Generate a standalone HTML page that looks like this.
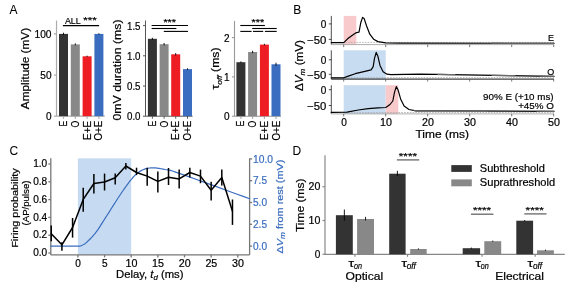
<!DOCTYPE html>
<html><head><meta charset="utf-8"><style>
html,body{margin:0;padding:0;background:#fff;width:568px;height:284px;overflow:hidden}
svg{display:block;will-change:transform}
text{font-family:"Liberation Sans", sans-serif;stroke-width:0.2px;paint-order:stroke}
</style></head><body>
<svg width="568" height="284" viewBox="0 0 568 284">
<rect width="568" height="284" fill="#fff"/>
<text stroke="#000" x="9.6" y="13.6" font-size="12" text-anchor="start" fill="#000" style="stroke-width:0.05px">A</text>
<text stroke="#000" x="293.2" y="13.6" font-size="12" text-anchor="start" fill="#000" style="stroke-width:0.05px">B</text>
<text stroke="#000" x="9.4" y="155.2" font-size="12" text-anchor="start" fill="#000" style="stroke-width:0.05px">C</text>
<text stroke="#000" x="292.6" y="155.0" font-size="12" text-anchor="start" fill="#000" style="stroke-width:0.05px">D</text>
<line x1="56.5" y1="20.6" x2="56.5" y2="116.2" stroke="#aaa" stroke-width="1.2" />
<line x1="56.5" y1="116.2" x2="104.8" y2="116.2" stroke="#aaa" stroke-width="1.2" />
<line x1="54.0" y1="116.2" x2="56.5" y2="116.2" stroke="#aaa" stroke-width="1.2" />
<text stroke="#000" x="51.5" y="120.2" font-size="10" text-anchor="end" fill="#000" >0</text>
<line x1="54.0" y1="75.05" x2="56.5" y2="75.05" stroke="#aaa" stroke-width="1.2" />
<text stroke="#000" x="51.5" y="79.05" font-size="10" text-anchor="end" fill="#000" textLength="11.2" lengthAdjust="spacingAndGlyphs" >50</text>
<line x1="54.0" y1="33.89999999999999" x2="56.5" y2="33.89999999999999" stroke="#aaa" stroke-width="1.2" />
<text stroke="#000" x="51.5" y="37.89999999999999" font-size="10" text-anchor="end" fill="#000" textLength="17" lengthAdjust="spacingAndGlyphs" >100</text>
<rect x="59.0" y="33.9" width="9" height="82.30000000000001" fill="#333333"/>
<line x1="63.5" y1="32.699999999999996" x2="63.5" y2="35.1" stroke="#000" stroke-width="0.9" />
<line x1="63.5" y1="116.2" x2="63.5" y2="118.7" stroke="#aaa" stroke-width="1.2" />
<rect x="70.8" y="44.4" width="9" height="71.80000000000001" fill="#888888"/>
<line x1="75.3" y1="43.4" x2="75.3" y2="45.4" stroke="#000" stroke-width="0.9" />
<line x1="75.3" y1="116.2" x2="75.3" y2="118.7" stroke="#aaa" stroke-width="1.2" />
<rect x="82.6" y="56.3" width="9" height="59.900000000000006" fill="#ee1d24"/>
<line x1="87.1" y1="55.699999999999996" x2="87.1" y2="56.9" stroke="#000" stroke-width="0.9" />
<line x1="87.1" y1="116.2" x2="87.1" y2="118.7" stroke="#aaa" stroke-width="1.2" />
<rect x="94.4" y="33.9" width="9" height="82.30000000000001" fill="#3a6dbf"/>
<line x1="98.9" y1="33.3" x2="98.9" y2="34.5" stroke="#000" stroke-width="0.9" />
<line x1="98.9" y1="116.2" x2="98.9" y2="118.7" stroke="#aaa" stroke-width="1.2" />
<text stroke="#000" x="29.4" y="68.5" font-size="10.2" text-anchor="middle" transform="rotate(-90 29.4 68.5)" textLength="81.3" lengthAdjust="spacingAndGlyphs">Amplitude (mV)</text>
<text stroke="#000" x="67.1" y="120.8" font-size="10" text-anchor="end" transform="rotate(-90 67.1 120.8)" textLength="5.8" lengthAdjust="spacingAndGlyphs">E</text>
<text stroke="#000" x="78.89999999999999" y="120.8" font-size="10" text-anchor="end" transform="rotate(-90 78.89999999999999 120.8)" textLength="6.8" lengthAdjust="spacingAndGlyphs">O</text>
<text stroke="#000" x="90.69999999999999" y="120.8" font-size="10" text-anchor="end" transform="rotate(-90 90.69999999999999 120.8)" textLength="19.2" lengthAdjust="spacingAndGlyphs">E+E</text>
<text stroke="#000" x="102.5" y="120.8" font-size="10" text-anchor="end" transform="rotate(-90 102.5 120.8)" textLength="19.8" lengthAdjust="spacingAndGlyphs">O+E</text>
<line x1="62.9" y1="25.6" x2="99.1" y2="25.6" stroke="#000" stroke-width="1.1" />
<text stroke="#000" x="64.9" y="24.0" font-size="9.8" text-anchor="start" fill="#000" textLength="15.8" lengthAdjust="spacingAndGlyphs" >ALL</text>
<text stroke="#000" x="83.3" y="23.3" font-size="9.4" text-anchor="start" fill="#000" textLength="13.5" lengthAdjust="spacingAndGlyphs" >***</text>
<line x1="145.5" y1="20.5" x2="145.5" y2="116.2" stroke="#555" stroke-width="1.0" />
<line x1="145.5" y1="116.2" x2="192.6" y2="116.2" stroke="#555" stroke-width="1.0" />
<line x1="143.0" y1="116.2" x2="145.5" y2="116.2" stroke="#555" stroke-width="1.0" />
<text stroke="#000" x="140.5" y="120.2" font-size="10" text-anchor="end" fill="#000" textLength="13.5" lengthAdjust="spacingAndGlyphs" >0.0</text>
<line x1="143.0" y1="86.0" x2="145.5" y2="86.0" stroke="#555" stroke-width="1.0" />
<text stroke="#000" x="140.5" y="90.0" font-size="10" text-anchor="end" fill="#000" textLength="13.5" lengthAdjust="spacingAndGlyphs" >0.5</text>
<line x1="143.0" y1="55.8" x2="145.5" y2="55.8" stroke="#555" stroke-width="1.0" />
<text stroke="#000" x="140.5" y="59.8" font-size="10" text-anchor="end" fill="#000" textLength="13.5" lengthAdjust="spacingAndGlyphs" >1.0</text>
<line x1="143.0" y1="25.599999999999994" x2="145.5" y2="25.599999999999994" stroke="#555" stroke-width="1.0" />
<text stroke="#000" x="140.5" y="29.599999999999994" font-size="10" text-anchor="end" fill="#000" textLength="13.5" lengthAdjust="spacingAndGlyphs" >1.5</text>
<rect x="147.9" y="38.8" width="9" height="77.4" fill="#333333"/>
<line x1="152.4" y1="37.8" x2="152.4" y2="39.8" stroke="#000" stroke-width="0.9" />
<line x1="152.4" y1="116.2" x2="152.4" y2="118.7" stroke="#555" stroke-width="1.0" />
<rect x="159.6" y="44.2" width="9" height="72.0" fill="#888888"/>
<line x1="164.1" y1="43.0" x2="164.1" y2="45.400000000000006" stroke="#000" stroke-width="0.9" />
<line x1="164.1" y1="116.2" x2="164.1" y2="118.7" stroke="#555" stroke-width="1.0" />
<rect x="171.2" y="54.3" width="9" height="61.900000000000006" fill="#ee1d24"/>
<line x1="175.7" y1="53.099999999999994" x2="175.7" y2="55.5" stroke="#000" stroke-width="0.9" />
<line x1="175.7" y1="116.2" x2="175.7" y2="118.7" stroke="#555" stroke-width="1.0" />
<rect x="183.0" y="69.1" width="9" height="47.10000000000001" fill="#3a6dbf"/>
<line x1="187.5" y1="68.3" x2="187.5" y2="69.89999999999999" stroke="#000" stroke-width="0.9" />
<line x1="187.5" y1="116.2" x2="187.5" y2="118.7" stroke="#555" stroke-width="1.0" />
<text stroke="#000" x="121.2" y="70.0" font-size="10.2" text-anchor="middle" transform="rotate(-90 121.2 70.0)" textLength="101" lengthAdjust="spacingAndGlyphs">0mV duration (ms)</text>
<text stroke="#000" x="156.0" y="120.8" font-size="10" text-anchor="end" transform="rotate(-90 156.0 120.8)" textLength="5.8" lengthAdjust="spacingAndGlyphs">E</text>
<text stroke="#000" x="167.7" y="120.8" font-size="10" text-anchor="end" transform="rotate(-90 167.7 120.8)" textLength="6.8" lengthAdjust="spacingAndGlyphs">O</text>
<text stroke="#000" x="179.29999999999998" y="120.8" font-size="10" text-anchor="end" transform="rotate(-90 179.29999999999998 120.8)" textLength="19.2" lengthAdjust="spacingAndGlyphs">E+E</text>
<text stroke="#000" x="191.1" y="120.8" font-size="10" text-anchor="end" transform="rotate(-90 191.1 120.8)" textLength="19.8" lengthAdjust="spacingAndGlyphs">O+E</text>
<line x1="151.6" y1="25.5" x2="188" y2="25.5" stroke="#000" stroke-width="1.1" />
<line x1="151.6" y1="28.5" x2="176.4" y2="28.5" stroke="#000" stroke-width="1.1" />
<line x1="163.8" y1="31.4" x2="188" y2="31.4" stroke="#000" stroke-width="1.1" />
<text stroke="#000" x="163.4" y="24.8" font-size="9" text-anchor="start" fill="#000" textLength="12.6" lengthAdjust="spacingAndGlyphs" >***</text>
<line x1="234.5" y1="20.9" x2="234.5" y2="116.2" stroke="#999" stroke-width="1.1" />
<line x1="234.5" y1="116.2" x2="281" y2="116.2" stroke="#999" stroke-width="1.1" />
<line x1="232.0" y1="116.2" x2="234.5" y2="116.2" stroke="#999" stroke-width="1.1" />
<text stroke="#000" x="229.5" y="120.2" font-size="10" text-anchor="end" fill="#000" >0</text>
<line x1="232.0" y1="76.9" x2="234.5" y2="76.9" stroke="#999" stroke-width="1.1" />
<text stroke="#000" x="229.5" y="80.9" font-size="10" text-anchor="end" fill="#000" >1</text>
<line x1="232.0" y1="37.60000000000001" x2="234.5" y2="37.60000000000001" stroke="#999" stroke-width="1.1" />
<text stroke="#000" x="229.5" y="41.60000000000001" font-size="10" text-anchor="end" fill="#000" >2</text>
<rect x="236.4" y="62.2" width="9" height="54.0" fill="#333333"/>
<line x1="240.9" y1="61.400000000000006" x2="240.9" y2="63.0" stroke="#000" stroke-width="0.9" />
<line x1="240.9" y1="116.2" x2="240.9" y2="118.7" stroke="#999" stroke-width="1.1" />
<rect x="248.1" y="52.0" width="9" height="64.2" fill="#888888"/>
<line x1="252.6" y1="50.8" x2="252.6" y2="53.2" stroke="#000" stroke-width="0.9" />
<line x1="252.6" y1="116.2" x2="252.6" y2="118.7" stroke="#999" stroke-width="1.1" />
<rect x="259.9" y="44.6" width="9" height="71.6" fill="#ee1d24"/>
<line x1="264.4" y1="43.800000000000004" x2="264.4" y2="45.4" stroke="#000" stroke-width="0.9" />
<line x1="264.4" y1="116.2" x2="264.4" y2="118.7" stroke="#999" stroke-width="1.1" />
<rect x="271.5" y="64.3" width="9" height="51.900000000000006" fill="#3a6dbf"/>
<line x1="276.0" y1="62.699999999999996" x2="276.0" y2="65.89999999999999" stroke="#000" stroke-width="0.9" />
<line x1="276.0" y1="116.2" x2="276.0" y2="118.7" stroke="#999" stroke-width="1.1" />
<text stroke="#000" x="219.0" y="68.5" font-size="10.2" text-anchor="middle" transform="rotate(-90 219.0 68.5)" textLength="42" lengthAdjust="spacingAndGlyphs">τ<tspan font-size="7" dy="2.5" font-style="italic">off</tspan><tspan dy="-2.5"> (ms)</tspan></text>
<text stroke="#000" x="244.5" y="120.8" font-size="10" text-anchor="end" transform="rotate(-90 244.5 120.8)" textLength="5.8" lengthAdjust="spacingAndGlyphs">E</text>
<text stroke="#000" x="256.2" y="120.8" font-size="10" text-anchor="end" transform="rotate(-90 256.2 120.8)" textLength="6.8" lengthAdjust="spacingAndGlyphs">O</text>
<text stroke="#000" x="268.0" y="120.8" font-size="10" text-anchor="end" transform="rotate(-90 268.0 120.8)" textLength="19.2" lengthAdjust="spacingAndGlyphs">E+E</text>
<text stroke="#000" x="279.6" y="120.8" font-size="10" text-anchor="end" transform="rotate(-90 279.6 120.8)" textLength="19.8" lengthAdjust="spacingAndGlyphs">O+E</text>
<line x1="240.3" y1="25.5" x2="264.9" y2="25.5" stroke="#000" stroke-width="1.1" />
<line x1="252.2" y1="28.5" x2="276.7" y2="28.5" stroke="#000" stroke-width="1.1" />
<line x1="240.3" y1="31.4" x2="251.6" y2="31.4" stroke="#000" stroke-width="1.1" />
<line x1="253.0" y1="31.4" x2="263.2" y2="31.4" stroke="#000" stroke-width="1.1" />
<line x1="264.9" y1="31.4" x2="276.7" y2="31.4" stroke="#000" stroke-width="1.1" />
<text stroke="#000" x="251.5" y="24.8" font-size="9" text-anchor="start" fill="#000" textLength="12.6" lengthAdjust="spacingAndGlyphs" >***</text>
<rect x="343.7" y="15.9" width="12.600000000000023" height="28.700000000000003" fill="#f8cacc"/>
<rect x="343.7" y="50.3" width="42.0" height="28.799999999999997" fill="#c7dbf1"/>
<rect x="343.7" y="85.2" width="42.0" height="28.700000000000003" fill="#c7dbf1"/>
<rect x="385.7" y="85.2" width="12.600000000000023" height="28.700000000000003" fill="#f8cacc"/>
<line x1="331.3" y1="15.9" x2="331.3" y2="44.6" stroke="#222" stroke-width="0.8" />
<line x1="331.3" y1="44.6" x2="554" y2="44.6" stroke="#999" stroke-width="0.8" />
<line x1="328.8" y1="23.9" x2="331.3" y2="23.9" stroke="#222" stroke-width="0.8" />
<line x1="328.8" y1="39.4" x2="331.3" y2="39.4" stroke="#222" stroke-width="0.8" />
<text stroke="#000" x="326.4" y="28.299999999999997" font-size="10" text-anchor="end" fill="#000" >0</text>
<text stroke="#000" x="326.4" y="43.8" font-size="10" text-anchor="end" fill="#000" textLength="19.2" lengthAdjust="spacingAndGlyphs" >−50</text>
<line x1="331.3" y1="42.4" x2="554" y2="42.4" stroke="#aaa" stroke-width="0.8" stroke-dasharray="1.6 1.2"/>
<line x1="343.7" y1="44.6" x2="343.7" y2="47.1" stroke="#555" stroke-width="0.8" />
<line x1="385.7" y1="44.6" x2="385.7" y2="47.1" stroke="#555" stroke-width="0.8" />
<line x1="427.7" y1="44.6" x2="427.7" y2="47.1" stroke="#555" stroke-width="0.8" />
<line x1="469.7" y1="44.6" x2="469.7" y2="47.1" stroke="#555" stroke-width="0.8" />
<line x1="511.7" y1="44.6" x2="511.7" y2="47.1" stroke="#555" stroke-width="0.8" />
<line x1="553.7" y1="44.6" x2="553.7" y2="47.1" stroke="#555" stroke-width="0.8" />
<line x1="331.3" y1="50.3" x2="331.3" y2="79.1" stroke="#222" stroke-width="0.8" />
<line x1="331.3" y1="79.1" x2="554" y2="79.1" stroke="#111" stroke-width="1.0" />
<line x1="328.8" y1="59.8" x2="331.3" y2="59.8" stroke="#222" stroke-width="0.8" />
<line x1="328.8" y1="74.3" x2="331.3" y2="74.3" stroke="#222" stroke-width="0.8" />
<text stroke="#000" x="326.4" y="64.2" font-size="10" text-anchor="end" fill="#000" >0</text>
<text stroke="#000" x="326.4" y="78.7" font-size="10" text-anchor="end" fill="#000" textLength="19.2" lengthAdjust="spacingAndGlyphs" >−50</text>
<line x1="331.3" y1="77.6" x2="554" y2="77.6" stroke="#aaa" stroke-width="0.8" stroke-dasharray="1.6 1.2"/>
<line x1="343.7" y1="79.1" x2="343.7" y2="81.6" stroke="#555" stroke-width="0.8" />
<line x1="385.7" y1="79.1" x2="385.7" y2="81.6" stroke="#555" stroke-width="0.8" />
<line x1="427.7" y1="79.1" x2="427.7" y2="81.6" stroke="#555" stroke-width="0.8" />
<line x1="469.7" y1="79.1" x2="469.7" y2="81.6" stroke="#555" stroke-width="0.8" />
<line x1="511.7" y1="79.1" x2="511.7" y2="81.6" stroke="#555" stroke-width="0.8" />
<line x1="553.7" y1="79.1" x2="553.7" y2="81.6" stroke="#555" stroke-width="0.8" />
<line x1="331.3" y1="85.2" x2="331.3" y2="113.9" stroke="#222" stroke-width="0.8" />
<line x1="331.3" y1="113.9" x2="554" y2="113.9" stroke="#999" stroke-width="0.8" />
<line x1="328.8" y1="89.7" x2="331.3" y2="89.7" stroke="#222" stroke-width="0.8" />
<line x1="328.8" y1="105.5" x2="331.3" y2="105.5" stroke="#222" stroke-width="0.8" />
<text stroke="#000" x="326.4" y="94.10000000000001" font-size="10" text-anchor="end" fill="#000" >0</text>
<text stroke="#000" x="326.4" y="109.9" font-size="10" text-anchor="end" fill="#000" textLength="19.2" lengthAdjust="spacingAndGlyphs" >−50</text>
<line x1="331.3" y1="112.5" x2="554" y2="112.5" stroke="#aaa" stroke-width="0.8" stroke-dasharray="1.6 1.2"/>
<line x1="343.7" y1="113.9" x2="343.7" y2="116.4" stroke="#555" stroke-width="0.8" />
<line x1="385.7" y1="113.9" x2="385.7" y2="116.4" stroke="#555" stroke-width="0.8" />
<line x1="427.7" y1="113.9" x2="427.7" y2="116.4" stroke="#555" stroke-width="0.8" />
<line x1="469.7" y1="113.9" x2="469.7" y2="116.4" stroke="#555" stroke-width="0.8" />
<line x1="511.7" y1="113.9" x2="511.7" y2="116.4" stroke="#555" stroke-width="0.8" />
<line x1="553.7" y1="113.9" x2="553.7" y2="116.4" stroke="#555" stroke-width="0.8" />
<text stroke="#000" x="344.0" y="126.4" font-size="10" text-anchor="middle" fill="#000" textLength="5.6" lengthAdjust="spacingAndGlyphs" >0</text>
<text stroke="#000" x="386.0" y="126.4" font-size="10" text-anchor="middle" fill="#000" textLength="11.9" lengthAdjust="spacingAndGlyphs" >10</text>
<text stroke="#000" x="428.0" y="126.4" font-size="10" text-anchor="middle" fill="#000" textLength="11.9" lengthAdjust="spacingAndGlyphs" >20</text>
<text stroke="#000" x="470.0" y="126.4" font-size="10" text-anchor="middle" fill="#000" textLength="11.9" lengthAdjust="spacingAndGlyphs" >30</text>
<text stroke="#000" x="512.0" y="126.4" font-size="10" text-anchor="middle" fill="#000" textLength="11.9" lengthAdjust="spacingAndGlyphs" >40</text>
<text stroke="#000" x="554.0" y="126.4" font-size="10" text-anchor="middle" fill="#000" textLength="11.9" lengthAdjust="spacingAndGlyphs" >50</text>
<text stroke="#000" x="442.2" y="138.2" font-size="10.8" text-anchor="middle" fill="#000" textLength="53.4" lengthAdjust="spacingAndGlyphs" >Time (ms)</text>
<text stroke="#000" x="303.0" y="65.5" font-size="10.6" text-anchor="middle" textLength="51" lengthAdjust="spacingAndGlyphs" transform="rotate(-90 303.0 65.5)">Δ<tspan font-style="italic">V</tspan><tspan font-size="7.4" dy="2" font-style="italic">m</tspan><tspan dy="-2"> (mV)</tspan></text>
<polyline points="331.30,42.60 343.80,42.60 347.60,38.80 352.70,35.00 356.50,32.60 359.00,32.20 360.90,22.20 362.60,17.40 364.10,18.40 366.60,26.00 369.80,34.20 373.60,39.20 378.00,41.60 385.70,42.80 400.00,43.10 554.00,43.30" fill="none" stroke="#000" stroke-width="1.2" stroke-linejoin="round" stroke-linecap="round" />
<polyline points="331.30,77.80 343.80,77.80 347.60,76.40 355.20,73.70 362.80,71.80 371.10,69.80 373.20,66.70 374.50,58.40 376.20,52.40 377.80,55.90 380.00,65.40 383.10,71.70 387.00,74.20 390.80,74.60 420.00,74.20 450.00,74.60 554.00,76.40" fill="none" stroke="#000" stroke-width="1.2" stroke-linejoin="round" stroke-linecap="round" />
<polyline points="331.30,112.40 347.00,112.20 358.30,110.00 368.20,108.60 378.00,107.90 385.80,107.50 390.00,104.50 392.80,101.00 394.60,91.90 396.30,86.60 398.00,89.70 400.60,98.90 404.10,106.00 409.00,109.50 416.00,110.90 440.00,110.90 554.00,111.30" fill="none" stroke="#000" stroke-width="1.2" stroke-linejoin="round" stroke-linecap="round" />
<polyline points="491.70,43.22 554.00,43.30" fill="none" stroke="#6a6a6a" stroke-width="1.2" stroke-linejoin="round" stroke-linecap="round" />
<polyline points="438.00,74.44 450.00,74.60 455.00,74.69" fill="none" stroke="#6a6a6a" stroke-width="1.2" stroke-linejoin="round" stroke-linecap="round" />
<polyline points="492.00,75.33 515.00,75.72" fill="none" stroke="#6a6a6a" stroke-width="1.2" stroke-linejoin="round" stroke-linecap="round" />
<polyline points="540.00,76.16 554.00,76.40" fill="none" stroke="#6a6a6a" stroke-width="1.2" stroke-linejoin="round" stroke-linecap="round" />
<polyline points="414.00,110.50 416.00,110.90 440.00,110.90 487.00,111.06" fill="none" stroke="#6a6a6a" stroke-width="1.2" stroke-linejoin="round" stroke-linecap="round" />
<polyline points="537.00,111.24 554.00,111.30" fill="none" stroke="#6a6a6a" stroke-width="1.2" stroke-linejoin="round" stroke-linecap="round" />
<text stroke="#000" x="554.0" y="40.8" font-size="9" text-anchor="end" fill="#000" >E</text>
<text stroke="#000" x="554.2" y="75.4" font-size="9" text-anchor="end" fill="#000" >O</text>
<text stroke="#000" x="553.6" y="99.7" font-size="9.8" text-anchor="end" fill="#000" >90% E (+10 ms)</text>
<text stroke="#000" x="553.8" y="109.4" font-size="9.8" text-anchor="end" fill="#000" >+45% O</text>
<rect x="77.9" y="158.3" width="53.29999999999998" height="96.6" fill="#c6dbf1"/>
<line x1="50.8" y1="158.3" x2="50.8" y2="254.9" stroke="#777" stroke-width="1.3" />
<line x1="50.8" y1="254.9" x2="249.6" y2="254.9" stroke="#777" stroke-width="1.3" />
<line x1="249.6" y1="158.3" x2="249.6" y2="254.9" stroke="#777" stroke-width="1.3" />
<line x1="48.3" y1="253.0" x2="50.8" y2="253.0" stroke="#777" stroke-width="1.3" />
<text stroke="#000" x="47.2" y="256.2" font-size="10" text-anchor="end" fill="#000" textLength="14" lengthAdjust="spacingAndGlyphs" >0.0</text>
<line x1="48.3" y1="235.2" x2="50.8" y2="235.2" stroke="#777" stroke-width="1.3" />
<text stroke="#000" x="47.2" y="238.39999999999998" font-size="10" text-anchor="end" fill="#000" textLength="14" lengthAdjust="spacingAndGlyphs" >0.2</text>
<line x1="48.3" y1="217.4" x2="50.8" y2="217.4" stroke="#777" stroke-width="1.3" />
<text stroke="#000" x="47.2" y="220.6" font-size="10" text-anchor="end" fill="#000" textLength="14" lengthAdjust="spacingAndGlyphs" >0.4</text>
<line x1="48.3" y1="199.6" x2="50.8" y2="199.6" stroke="#777" stroke-width="1.3" />
<text stroke="#000" x="47.2" y="202.79999999999998" font-size="10" text-anchor="end" fill="#000" textLength="14" lengthAdjust="spacingAndGlyphs" >0.6</text>
<line x1="48.3" y1="181.8" x2="50.8" y2="181.8" stroke="#777" stroke-width="1.3" />
<text stroke="#000" x="47.2" y="185.0" font-size="10" text-anchor="end" fill="#000" textLength="14" lengthAdjust="spacingAndGlyphs" >0.8</text>
<line x1="48.3" y1="164.0" x2="50.8" y2="164.0" stroke="#777" stroke-width="1.3" />
<text stroke="#000" x="47.2" y="167.2" font-size="10" text-anchor="end" fill="#000" textLength="14" lengthAdjust="spacingAndGlyphs" >1.0</text>
<line x1="249.6" y1="246.1" x2="252.1" y2="246.1" stroke="#777" stroke-width="1.3" />
<text stroke="#3a6dbf" x="253.0" y="249.79999999999998" font-size="10" text-anchor="start" fill="#3a6dbf" textLength="14" lengthAdjust="spacingAndGlyphs" >0.0</text>
<line x1="249.6" y1="224.29999999999998" x2="252.1" y2="224.29999999999998" stroke="#777" stroke-width="1.3" />
<text stroke="#3a6dbf" x="253.0" y="227.99999999999997" font-size="10" text-anchor="start" fill="#3a6dbf" textLength="14" lengthAdjust="spacingAndGlyphs" >2.5</text>
<line x1="249.6" y1="202.5" x2="252.1" y2="202.5" stroke="#777" stroke-width="1.3" />
<text stroke="#3a6dbf" x="253.0" y="206.2" font-size="10" text-anchor="start" fill="#3a6dbf" textLength="14" lengthAdjust="spacingAndGlyphs" >5.0</text>
<line x1="249.6" y1="180.7" x2="252.1" y2="180.7" stroke="#777" stroke-width="1.3" />
<text stroke="#3a6dbf" x="253.0" y="184.39999999999998" font-size="10" text-anchor="start" fill="#3a6dbf" textLength="14" lengthAdjust="spacingAndGlyphs" >7.5</text>
<line x1="249.6" y1="158.89999999999998" x2="252.1" y2="158.89999999999998" stroke="#777" stroke-width="1.3" />
<text stroke="#3a6dbf" x="253.0" y="162.59999999999997" font-size="10" text-anchor="start" fill="#3a6dbf" textLength="20" lengthAdjust="spacingAndGlyphs" >10.0</text>
<line x1="77.9" y1="254.9" x2="77.9" y2="257.4" stroke="#777" stroke-width="1.3" />
<text stroke="#000" x="78.10000000000001" y="266.6" font-size="10" text-anchor="middle" fill="#000" textLength="5.6" lengthAdjust="spacingAndGlyphs" >0</text>
<line x1="104.55000000000001" y1="254.9" x2="104.55000000000001" y2="257.4" stroke="#777" stroke-width="1.3" />
<text stroke="#000" x="104.75000000000001" y="266.6" font-size="10" text-anchor="middle" fill="#000" textLength="5.6" lengthAdjust="spacingAndGlyphs" >5</text>
<line x1="131.2" y1="254.9" x2="131.2" y2="257.4" stroke="#777" stroke-width="1.3" />
<text stroke="#000" x="131.39999999999998" y="266.6" font-size="10" text-anchor="middle" fill="#000" textLength="11.9" lengthAdjust="spacingAndGlyphs" >10</text>
<line x1="157.85000000000002" y1="254.9" x2="157.85000000000002" y2="257.4" stroke="#777" stroke-width="1.3" />
<text stroke="#000" x="158.05" y="266.6" font-size="10" text-anchor="middle" fill="#000" textLength="11.9" lengthAdjust="spacingAndGlyphs" >15</text>
<line x1="184.5" y1="254.9" x2="184.5" y2="257.4" stroke="#777" stroke-width="1.3" />
<text stroke="#000" x="184.7" y="266.6" font-size="10" text-anchor="middle" fill="#000" textLength="11.9" lengthAdjust="spacingAndGlyphs" >20</text>
<line x1="211.15" y1="254.9" x2="211.15" y2="257.4" stroke="#777" stroke-width="1.3" />
<text stroke="#000" x="211.35" y="266.6" font-size="10" text-anchor="middle" fill="#000" textLength="11.9" lengthAdjust="spacingAndGlyphs" >25</text>
<line x1="237.8" y1="254.9" x2="237.8" y2="257.4" stroke="#777" stroke-width="1.3" />
<text stroke="#000" x="238.0" y="266.6" font-size="10" text-anchor="middle" fill="#000" textLength="11.9" lengthAdjust="spacingAndGlyphs" >30</text>
<text stroke="#000" x="116.0" y="277.6" font-size="10.2" text-anchor="start" textLength="67.5" lengthAdjust="spacingAndGlyphs">Delay, <tspan font-style="italic">t</tspan><tspan font-size="7" dy="2" font-style="italic">d</tspan><tspan dy="-2"> (ms)</tspan></text>
<text stroke="#000" x="18.0" y="208.0" font-size="9.6" text-anchor="middle" transform="rotate(-90 18.0 208.0)" textLength="79.5" lengthAdjust="spacingAndGlyphs">Firing probability</text>
<text stroke="#000" x="28.6" y="203.0" font-size="9.6" text-anchor="middle" transform="rotate(-90 28.6 203.0)" textLength="45" lengthAdjust="spacingAndGlyphs">(AP/pulse)</text>
<text stroke="#3a6dbf" x="283.2" y="206.6" font-size="9.7" text-anchor="middle" fill="#3a6dbf" textLength="94" lengthAdjust="spacingAndGlyphs" transform="rotate(-90 283.2 206.6)">Δ<tspan font-style="italic">V</tspan><tspan font-size="7.4" dy="2" font-style="italic">m</tspan><tspan dy="-2"> from rest (mV)</tspan></text>
<polyline points="50.80,246.10 52.97,246.11 56.00,246.12 59.64,246.14 63.59,246.15 67.58,246.16 71.33,246.16 74.56,246.14 77.00,246.10 78.64,246.06 79.73,246.03 80.40,245.99 80.79,245.94 81.01,245.86 81.20,245.74 81.49,245.55 82.00,245.30 82.65,245.00 83.28,244.68 83.92,244.32 84.56,243.91 85.24,243.42 85.96,242.86 86.74,242.19 87.60,241.40 88.54,240.51 89.54,239.54 90.59,238.47 91.69,237.32 92.83,236.07 94.01,234.72 95.20,233.26 96.40,231.70 97.58,230.06 98.74,228.36 99.91,226.57 101.11,224.67 102.38,222.64 103.74,220.45 105.24,218.08 106.90,215.50 108.79,212.57 110.90,209.25 113.17,205.67 115.53,201.97 117.90,198.29 120.21,194.74 122.40,191.47 124.40,188.60 126.20,186.09 127.87,183.79 129.45,181.69 130.96,179.77 132.42,178.01 133.89,176.41 135.37,174.94 136.90,173.60 138.45,172.40 139.97,171.37 141.49,170.50 143.01,169.77 144.56,169.17 146.14,168.68 147.79,168.30 149.50,168.00 151.30,167.83 153.18,167.81 155.12,167.93 157.10,168.14 159.10,168.44 161.09,168.78 163.07,169.14 165.00,169.50 166.53,169.74 167.51,169.85 168.26,169.92 169.12,170.08 170.40,170.41 172.42,171.04 175.52,172.06 180.00,173.60 186.56,175.90 195.19,178.99 205.16,182.58 215.74,186.41 226.20,190.20 235.81,193.70 243.86,196.62 249.60,198.70" fill="none" stroke="#3a6dbf" stroke-width="1.2" stroke-linejoin="round" stroke-linecap="round" />
<polyline points="51.25,233.80 61.91,244.80 72.57,227.50 83.23,199.40 93.89,183.50 104.55,182.00 115.21,177.80 125.87,166.00 136.53,172.50 147.19,176.10 157.85,181.40 168.51,177.20 179.17,178.90 189.83,172.50 200.49,176.10 211.15,190.20 221.81,177.50 232.47,211.30" fill="none" stroke="#000" stroke-width="1.5" stroke-linejoin="round" stroke-linecap="round" />
<line x1="51.25000000000001" y1="225.4" x2="51.25000000000001" y2="241.2" stroke="#000" stroke-width="1.5" />
<line x1="61.910000000000004" y1="242.3" x2="61.910000000000004" y2="250.7" stroke="#000" stroke-width="1.5" />
<line x1="72.57000000000001" y1="218" x2="72.57000000000001" y2="237.6" stroke="#000" stroke-width="1.5" />
<line x1="83.23" y1="187.8" x2="83.23" y2="211.7" stroke="#000" stroke-width="1.5" />
<line x1="93.89" y1="174" x2="93.89" y2="193.5" stroke="#000" stroke-width="1.5" />
<line x1="104.55000000000001" y1="173.6" x2="104.55000000000001" y2="190.5" stroke="#000" stroke-width="1.5" />
<line x1="115.21000000000001" y1="173.6" x2="115.21000000000001" y2="184.6" stroke="#000" stroke-width="1.5" />
<line x1="125.87" y1="163" x2="125.87" y2="169.4" stroke="#000" stroke-width="1.5" />
<line x1="136.53" y1="167.7" x2="136.53" y2="175.1" stroke="#000" stroke-width="1.5" />
<line x1="147.19" y1="167.7" x2="147.19" y2="185.7" stroke="#000" stroke-width="1.5" />
<line x1="157.85000000000002" y1="171.5" x2="157.85000000000002" y2="192.6" stroke="#000" stroke-width="1.5" />
<line x1="168.51" y1="168" x2="168.51" y2="185" stroke="#000" stroke-width="1.5" />
<line x1="179.17000000000002" y1="169.4" x2="179.17000000000002" y2="188.6" stroke="#000" stroke-width="1.5" />
<line x1="189.83" y1="167.7" x2="189.83" y2="177.5" stroke="#000" stroke-width="1.5" />
<line x1="200.49" y1="169.6" x2="200.49" y2="183.2" stroke="#000" stroke-width="1.5" />
<line x1="211.15" y1="181.8" x2="211.15" y2="200.6" stroke="#000" stroke-width="1.5" />
<line x1="221.81" y1="169.6" x2="221.81" y2="185.4" stroke="#000" stroke-width="1.5" />
<line x1="232.47" y1="199.5" x2="232.47" y2="224.9" stroke="#000" stroke-width="1.5" />
<line x1="325.0" y1="155.2" x2="325.0" y2="254.3" stroke="#888" stroke-width="1.2" />
<line x1="325.0" y1="254.3" x2="564.8" y2="254.3" stroke="#888" stroke-width="1.2" />
<line x1="322.5" y1="254.3" x2="325" y2="254.3" stroke="#888" stroke-width="1.2" />
<text stroke="#000" x="320.4" y="257.90000000000003" font-size="10" text-anchor="end" fill="#000" >0</text>
<line x1="322.5" y1="220.5" x2="325" y2="220.5" stroke="#888" stroke-width="1.2" />
<text stroke="#000" x="320.4" y="224.1" font-size="10" text-anchor="end" fill="#000" textLength="11.8" lengthAdjust="spacingAndGlyphs" >10</text>
<line x1="322.5" y1="186.70000000000002" x2="325" y2="186.70000000000002" stroke="#888" stroke-width="1.2" />
<text stroke="#000" x="320.4" y="190.3" font-size="10" text-anchor="end" fill="#000" textLength="11.8" lengthAdjust="spacingAndGlyphs" >20</text>
<rect x="335.9" y="215.2" width="16.900000000000034" height="39.10000000000002" fill="#333333"/>
<line x1="344.35" y1="209.5" x2="344.35" y2="220.7" stroke="#000" stroke-width="0.9" />
<rect x="357.1" y="219.0" width="16.899999999999977" height="35.30000000000001" fill="#888888"/>
<line x1="365.55" y1="216.9" x2="365.55" y2="220.5" stroke="#000" stroke-width="0.9" />
<rect x="389.2" y="173.7" width="16.400000000000034" height="80.60000000000002" fill="#333333"/>
<line x1="397.4" y1="170.8" x2="397.4" y2="176.0" stroke="#000" stroke-width="0.9" />
<rect x="410.2" y="249.0" width="16.5" height="5.300000000000011" fill="#888888"/>
<line x1="418.45" y1="248.4" x2="418.45" y2="249.6" stroke="#000" stroke-width="0.9" />
<rect x="462.7" y="248.2" width="17.400000000000034" height="6.100000000000023" fill="#333333"/>
<line x1="471.4" y1="247.6" x2="471.4" y2="248.79999999999998" stroke="#000" stroke-width="0.9" />
<rect x="484.3" y="241.2" width="16.899999999999977" height="13.100000000000023" fill="#888888"/>
<line x1="492.75" y1="240.6" x2="492.75" y2="241.79999999999998" stroke="#000" stroke-width="0.9" />
<rect x="516.3" y="220.7" width="16.800000000000068" height="33.60000000000002" fill="#333333"/>
<line x1="524.7" y1="220.1" x2="524.7" y2="221.29999999999998" stroke="#000" stroke-width="0.9" />
<rect x="537.0" y="250.3" width="16.899999999999977" height="4.0" fill="#888888"/>
<line x1="545.45" y1="249.70000000000002" x2="545.45" y2="250.9" stroke="#000" stroke-width="0.9" />
<line x1="354.9" y1="254.3" x2="354.9" y2="256.8" stroke="#888" stroke-width="1.2" />
<line x1="407.5" y1="254.3" x2="407.5" y2="256.8" stroke="#888" stroke-width="1.2" />
<line x1="482.0" y1="254.3" x2="482.0" y2="256.8" stroke="#888" stroke-width="1.2" />
<line x1="535.2" y1="254.3" x2="535.2" y2="256.8" stroke="#888" stroke-width="1.2" />
<text stroke="#000" x="348.6" y="266.8" font-size="10.5" textLength="5.6" lengthAdjust="spacingAndGlyphs">τ</text>
<text stroke="#000" x="353.9" y="268.7" font-size="8.2" font-style="italic" textLength="8.0" lengthAdjust="spacingAndGlyphs">on</text>
<text stroke="#000" x="401.40000000000003" y="266.8" font-size="10.5" textLength="5.6" lengthAdjust="spacingAndGlyphs">τ</text>
<text stroke="#000" x="406.7" y="268.7" font-size="8.2" font-style="italic" textLength="9.2" lengthAdjust="spacingAndGlyphs">off</text>
<text stroke="#000" x="475.40000000000003" y="266.8" font-size="10.5" textLength="5.6" lengthAdjust="spacingAndGlyphs">τ</text>
<text stroke="#000" x="480.7" y="268.7" font-size="8.2" font-style="italic" textLength="8.0" lengthAdjust="spacingAndGlyphs">on</text>
<text stroke="#000" x="527.6" y="266.8" font-size="10.5" textLength="5.6" lengthAdjust="spacingAndGlyphs">τ</text>
<text stroke="#000" x="532.9" y="268.7" font-size="8.2" font-style="italic" textLength="9.2" lengthAdjust="spacingAndGlyphs">off</text>
<text stroke="#000" x="345.6" y="279.6" font-size="10.4" text-anchor="start" fill="#000" textLength="37.6" lengthAdjust="spacingAndGlyphs" >Optical</text>
<text stroke="#000" x="495.2" y="279.6" font-size="10.4" text-anchor="start" fill="#000" textLength="48.8" lengthAdjust="spacingAndGlyphs" >Electrical</text>
<text stroke="#000" x="304.3" y="205.4" font-size="11.2" text-anchor="middle" textLength="53.5" lengthAdjust="spacingAndGlyphs" transform="rotate(-90 304.2 205.4)">Time (ms)</text>
<line x1="396.9" y1="159.9" x2="419.2" y2="159.9" stroke="#666" stroke-width="1.3" />
<text stroke="#000" x="398.8" y="158.9" font-size="9" text-anchor="start" fill="#000" textLength="18.2" lengthAdjust="spacingAndGlyphs" >****</text>
<line x1="471.0" y1="214.2" x2="493.4" y2="214.2" stroke="#666" stroke-width="1.3" />
<text stroke="#000" x="472.9" y="213.2" font-size="9" text-anchor="start" fill="#000" textLength="18.2" lengthAdjust="spacingAndGlyphs" >****</text>
<line x1="524.3" y1="213.9" x2="546.5" y2="213.9" stroke="#666" stroke-width="1.3" />
<text stroke="#000" x="525.6" y="212.9" font-size="9" text-anchor="start" fill="#000" textLength="18.2" lengthAdjust="spacingAndGlyphs" >****</text>
<rect x="451.3" y="165.1" width="20.5" height="6.8" fill="#333333"/>
<rect x="451.3" y="179.4" width="20.5" height="6.9" fill="#888888"/>
<text stroke="#000" x="479.8" y="172.1" font-size="10.3" text-anchor="start" fill="#000" textLength="65.0" lengthAdjust="spacingAndGlyphs" >Subthreshold</text>
<text stroke="#000" x="479.8" y="186.4" font-size="10.3" text-anchor="start" fill="#000" textLength="75.4" lengthAdjust="spacingAndGlyphs" >Suprathreshold</text>
</svg></body></html>
